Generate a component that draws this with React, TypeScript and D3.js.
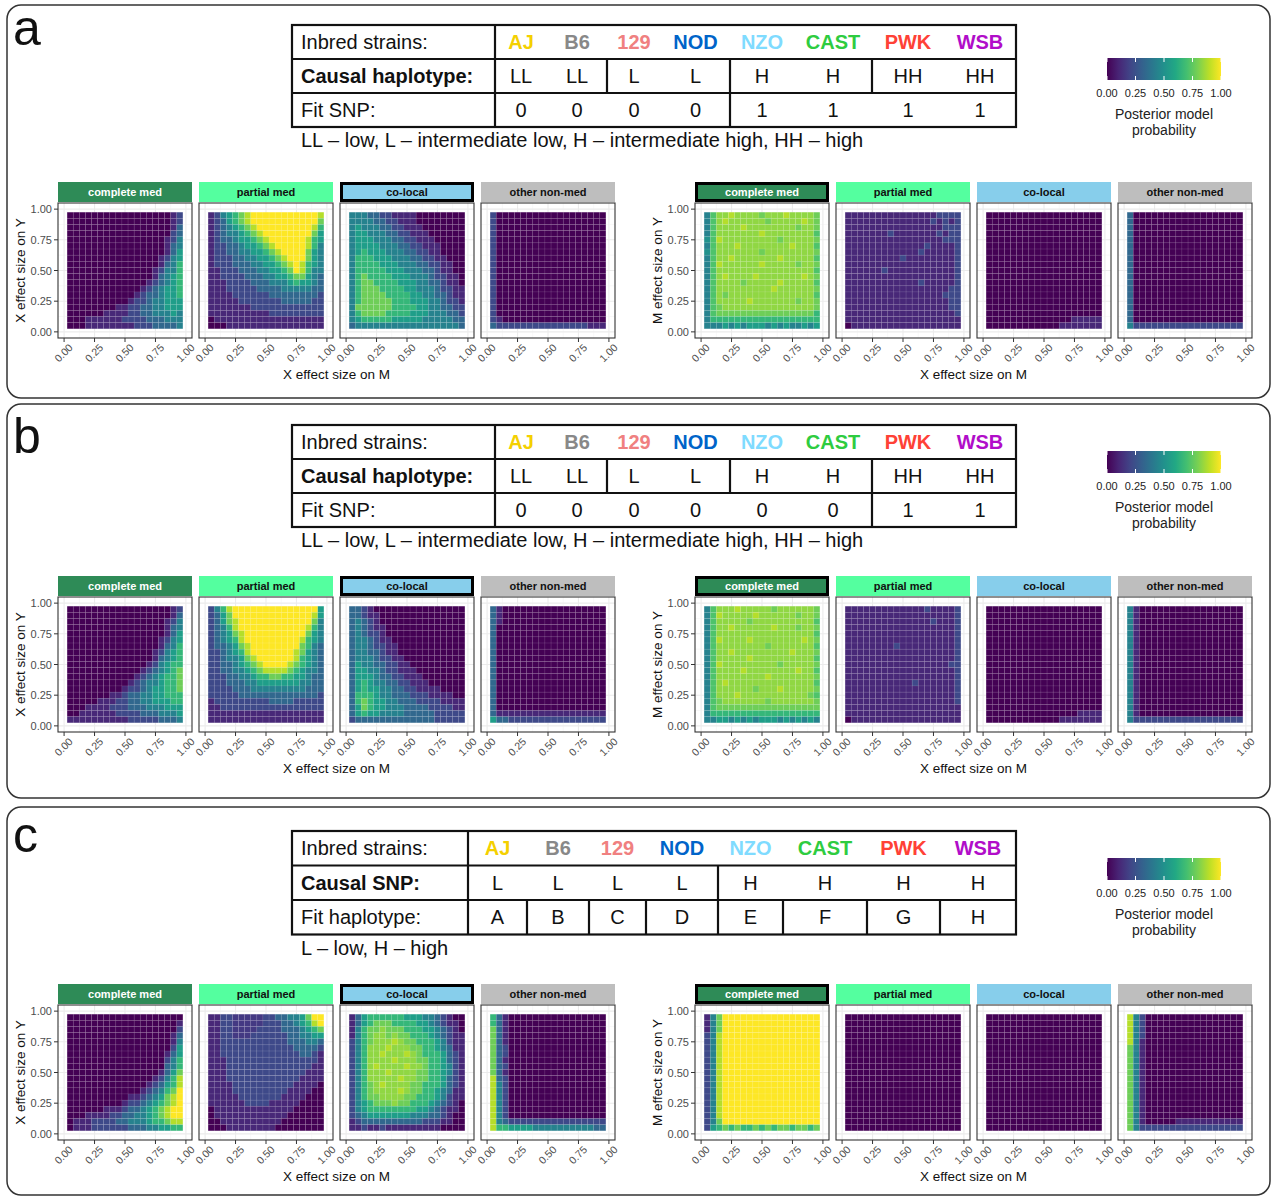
import React from 'react';
import * as d3 from 'd3';

const FONT = '"Liberation Sans", Arial, Helvetica, sans-serif';

// effect sizes sampled on both axes (tile centres)
const effectSizes = [0.05, 0.1, 0.15, 0.2, 0.25, 0.3, 0.35, 0.4, 0.45, 0.5, 0.55, 0.6, 0.65, 0.7, 0.75, 0.8, 0.85, 0.9, 0.95];
const axisTicks = [0, 0.25, 0.5, 0.75, 1];
const minorTicks = [0.125, 0.375, 0.625, 0.875];
const legendTicks = [0, 0.25, 0.5, 0.75, 1];

const models = ['complete med', 'partial med', 'co-local', 'other non-med'];
const modelFills = ['#2E8B57', '#54FF9F', '#87CEEB', '#BEBEBE'];
const modelText = ['#ffffff', '#111111', '#111111', '#111111'];

const strains = ['AJ', 'B6', '129', 'NOD', 'NZO', 'CAST', 'PWK', 'WSB'];
const strainColors = ['#F4D000', '#888888', '#F08080', '#0064C9', '#7FDBFF', '#2ECC40', '#FF4136', '#B10DC9'];

const causalHapA = ['LL', 'LL', 'L', 'L', 'H', 'H', 'HH', 'HH'];
const fitSnpA = ['0', '0', '0', '0', '1', '1', '1', '1'];
const causalHapB = ['LL', 'LL', 'L', 'L', 'H', 'H', 'HH', 'HH'];
const fitSnpB = ['0', '0', '0', '0', '0', '0', '1', '1'];
const causalSnpC = ['L', 'L', 'L', 'L', 'H', 'H', 'H', 'H'];
const fitHapC = ['A', 'B', 'C', 'D', 'E', 'F', 'G', 'H'];

// posterior model probability: one char per tile, position in LEVELS / 18
// (digits d = d/9, letters are the half steps between them)
// rows from effect 0.95 (top) down to 0.05, columns 0.05 -> 0.95
const LEVELS = '0A1B2C3D4E5F6G7H8I9';

const aLeftComplete = [
  '0000000000000000012', '0000000000000000012', '0000000000000000013', '0000000000000000023',
  '0000000000000000124', '0000000000000000134', '0000000000000000135', '0000000000000001245',
  '0000000000000001346', '0000000000000012446', '0000000000000013456', '0000000000000123456',
  '0000000000001234556', '0000000000012334556', '0000000000122344555', '0000000011223344555',
  '0000001111223344454', '0001111112222333444', '0001111111122233334',
];
const aLeftPartial = [
  '1245678999999999998', '1235678999999999997', '1234567899999999986', '1234456789999999975',
  '1233455678999999865', '1223345567899999864', '1223344556789999754', '1222334455678999754',
  '1222333445567898654', '1122233344556798644', '1122223334455677543', '1112222333444565543',
  '1112222233334444433', '1111222222333333332', '1111122222223333322', '1111111222222222222',
  '1111111111222222222', '0111111111111111111', '0001111111111111111',
];
const aLeftColocal = [
  '4443322111100000000', '4444332211100000000', '4544433221110000000', '4554443322111000000',
  '4555444332211100000', '4555544433221110000', '4565554443322110000', '4666555444332211000',
  '4666655544433221100', '4666665554443321100', '4676666555444322110', '4677666655544332110',
  '4677766665544432211', '4677776666554433211', '4677777666555443221', '4777777666655443322',
  '4677776666555444332', '4566666555554444433', '3444444444444444443',
];
const aLeftOther = [
  '2000000000000000000', '2000000000000000000', '2000000000000000000', '2000000000000000000',
  '2000000000000000000', '2000000000000000000', '2000000000000000000', '2000000000000000000',
  '2000000000000000000', '2000000000000000000', '2000000000000000000', '2000000000000000000',
  '2000000000000000000', '2000000000000000000', '2000000000000000000', '2000000000000000000',
  '2000000000000000000', '2100000000000000000', '3222222222222222111',
];
const aRightComplete = [
  '4GHH8HHHH7HHH8HHHH7', '4GH8HHHHHH7HHHHH8H7', '4GHHHH8HHHHHHHH7HH7', '4GHHHHHHH8HHHHHHHHG',
  'EG8HHHHHHHHH7HHHHH7', '4GHHH8HHHHHHHH8HHHG', 'EGHHHHHHH7HHHHHHHH7', '4GHH8HHHHHHH8HHHHHG',
  '4G8HHHHHH8HHHHH7HH7', '4GHHHHHHHHHHHHHHHHG', '4GH8HHHH8HHHHHHH8H7', '4GHHHH7HHHHH8HHHHHG',
  '4GHHHHHHHHH8HHHHHH7', '4GH7HHHHHHHHHHHHHHG', '4GHHHHH8HHHHHHH7HH7', '4G7HHHHHHHHHHHHHHH7',
  '4G77777777777777776', '4666666666666666666', '4445454555454544545',
];
const aRightPartial = [
  '1111111111111112222', '1111111111111121212', '1111111111111111222', '1111111211111112122',
  '1111111111111111222', '1111111111111211112', '1111111111112111112', '1111111112111111112',
  '1111111111111111112', '1111112111111111112', '1111111111111111112', '1111111111112111112',
  '1111111111111111122', '1111111111111111222', '1111111111111111122', '1111111111111111122',
  '1111111111111111112', '1111111111111111111', '0111111111111111111',
];
const aRightColocal = [
  '0000000000000000000', '0000000000000000000', '0000000000000000000', '0000000000000000000',
  '0000000000000000000', '0000000000000000000', '0000000000000000000', '0000000000000000000',
  '0000000000000000000', '0000000000000000000', '0000000000000000000', '0000000000000000000',
  '0000000000000000000', '0000000000000000000', '0000000000000000000', '0000000000000000000',
  '0000000000000000000', '0000000000000011111', '0000000000001111111',
];
const aRightOther = [
  '3000000000000000000', '3000000000000000000', '3000000000000000000', '3000000000000000000',
  '3000000000000000000', '3000000000000000000', '3000000000000000000', '3000000000000000000',
  '3000000000000000000', '3000000000000000000', '3000000000000000000', '3000000000000000000',
  '3000000000000000000', '3000000000000000000', '3000000000000000000', '3000000000000000000',
  '3000000000000000000', '3000000000000000000', '4222222222222222222',
];

const bLeftComplete = [
  '0000000000000000012', '0000000000000000013', '0000000000000000124', '0000000000000000134',
  '0000000000000000135', '0000000000000001245', '0000000000000001346', '0000000000000012456',
  '0000000000000013456', '0000000000000124566', '0000000000001234567', '0000000000012345667',
  '0000000000123445667', '0000000001223455667', '0000000112334455666', '0000011122334455566',
  '0001111222333444555', '0011111122223334445', '1111111111222223334',
];
const bLeftPartial = [
  '2468999999999999995', '2357999999999999985', '2357899999999999974', '2346899999999999864',
  '2345789999999999754', '2345689999999998654', '2334578999999997643', '2234568999999987543',
  '2234457899999986543', '2233456789999876543', '2233445678888765443', '2223344566776655433',
  '2223334455555554433', '2222333444444444333', '2222233333333333332', '1222222222333322222',
  '1122222222222222222', '1111111111111111111', '1111111111111111111',
];
const bLeftColocal = [
  '3321000000000000000', '3321100000000000000', '3432100000000000000', '3432110000000000000',
  '3432210000000000000', '3443211000000000000', '3443221100000000000', '3443321100000000000',
  '3444322110000000000', '3544332211000000000', '3554432211100000000', '3555433221110000000',
  '3565443322111000000', '3565544332211110000', '3666544333222111100', '3676554433322221111',
  '3576554443333222211', '3565544443333322222', '2333333333333322222',
];
const bLeftOther = [
  '3100000000000000000', '3100000000000000000', '3100000000000000000', '3000000000000000000',
  '3000000000000000000', '3000000000000000000', '3000000000000000000', '3000000000000000000',
  '3000000000000000000', '3000000000000000000', '3000000000000000000', '3000000000000000000',
  '3000000000000000000', '3000000000000000000', '3000000000000000000', '3000000000000000000',
  '3000000000000000000', '3111111111111111111', '5332222222222222222',
];
const bRightComplete = [
  '4GHHH8HHHHH7HHHHHH7', '4G8HHHHH8HHHHHH7HH7', '4GHHHHH7HHHHHHHHHHG', '4GHH8HHHHHH8HHH7HH7',
  '4GHHHHHHHHHHHHHHHHG', '4G8HHHH8HHHHHHHH8H7', '4GHHHHHHHH7HHHHHHHG', '4GHH8HHHHHHHHH8HHH7',
  '4GHHHHH8HHHHHHHHHHG', '4G8HHHHHHHHH7HHHHH7', '4GHHHH8HHHHHHHH8HHG', '4GHHHHHHHH8HHHHHHH7',
  '4GH8HHHHHHHHHHHHHHG', '4GHHHHHH7HHH8HHHHH7', '4GHHH8HHHHHHHHHHH7G', '4G7HHHHHHH7HHHHHHH7',
  '4G77777777777777777', '4666666666666666666', '4455454545554545454',
];
const bRightPartial = [
  '1111111111111211112', '1111111111111111112', '1111111111111121112', '1111111111111111112',
  '1111111111111111112', '1111111111111111112', '1111111121111111112', '1111111111111111112',
  '1111111111111111112', '1111111111111111122', '1111111111111111112', '1111111111111111112',
  '1111111111121111112', '1111111111111111112', '1111111111111111112', '1111111111111111112',
  '1111111111111111111', '1111111111111111111', '0111111111111111111',
];
const bRightColocal = [
  '0000000000000000000', '0000000000000000000', '0000000000000000000', '0000000000000000000',
  '0000000000000000000', '0000000000000000000', '0000000000000000000', '0000000000000000000',
  '0000000000000000000', '0000000000000000000', '0000000000000000000', '0000000000000000000',
  '0000000000000000000', '0000000000000000000', '0000000000000000000', '0000000000000000000',
  '0000000000000000000', '0000000000000001111', '0000000000001111111',
];
const bRightOther = [
  '4100000000000000000', '4100000000000000000', '4100000000000000000', '4100000000000000000',
  '4100000000000000000', '4100000000000000000', '4100000000000000000', '4100000000000000000',
  '4100000000000000000', '4100000000000000000', '4100000000000000000', '4100000000000000000',
  '4100000000000000000', '4100000000000000000', '4100000000000000000', '4100000000000000000',
  '4100000000000000000', '4100000000000000000', '4222222222222222222',
];

const cLeftComplete = [
  '0000000000000000000', '0000000000000000001', '0000000000000000002', '0000000000000000013',
  '0000000000000000014', '0000000000000000025', '0000000000000000135', '0000000000000000246',
  '0000000000000000346', '0000000000000001357', '0000000000000012468', '0000000000000123568',
  '0000000000001234679', '0000000000112345789', '0000000001223456789', '0000001112334567899',
  '0001111223344567899', '0111222233444566788', '0111222222333445566',
];
const cLeftPartial = [
  '1122BBBBB2233445799', '1122BBBBB2223345689', '1122BBBB22223334567', '1122BBB222222334455',
  '1122222222222333443', '1122222222222233332', '1122222222222223321', '1112222222222222221',
  '1112222222222222211', '1112222222222222111', '1112222222222221111', '1111222222222211110',
  '1111222222222111100', '1111122222221111000', '1111112222111110000', '0111111111111100000',
  '0111111111111000000', '0011111111110000000', '0001111111100000000',
];
const cLeftColocal = [
  '1356666665554432100', '1356777666655432110', '14677H7776665543210', '1467HH7H77666543211',
  '2467HHH8H7766654211', '246HHH8HHH776654311', '246HH8HHH8H76665321', '246HHHH8HHH77665321',
  '246H8HHHH8HH7665421', '246HHH8HHHH77665421', '246HHHHH8HH77665321', '2467H8HHHH776665321',
  '2467HHHH8H776654311', '24677HHHH7766654211', '2456777H77666543210', '2456666666655432110',
  '2345555555444332100', '1233333333332221100', '1121121111111110000',
];
const cLeftOther = [
  '6310000000000000000', '6310000000000000000', '7310000000000000000', '7310000000000000000',
  '7310000000000000000', '7320000000000000000', '7320000000000000000', '7310000000000000000',
  '7320000000000000000', '7310000000000000000', '8320000000000000000', '8420000000000000000',
  '8420000000000000000', '8420000000000000000', '8420000000000000000', '8420000000000000000',
  '8420000000000000000', '8432222222222222222', '8665555444444444433',
];
const cRightComplete = [
  '1479999999999999999', '1479999999999999999', '1479999999999999999', '2489999999999999999',
  '2489999999999999999', '2489999999999999999', '2489999999999999999', '2489999999999999999',
  '2489999999999999999', '2489999999999999999', '2489999999999999999', '2489999999999999999',
  '2489999999999999999', '2489999999999999999', '2489999999999999999', '2489999999999999999',
  '2489999999999999999', '2479999999999999999', '2567676676767767767',
];
const cRightPartial = [
  '0000000000000000000', '0000000000000000000', '0000000000000000000', '0000000000000000000',
  '0000000000000000000', '0000000000000000000', '0000000000000000000', '0000000000000000000',
  '0000000000000000000', '0000000000000000000', '0000000000000000000', '0000000000000000000',
  '0000000000000000000', '0000000000000000000', '0000000000000000000', '0000000000000000000',
  '0000000000000000000', '0000000000000000000', '0000000000000000000',
];
const cRightColocal = [
  '0000000000000000000', '0000000000000000000', '0000000000000000000', '0000000000000000000',
  '0000000000000000000', '0000000000000000000', '0000000000000000000', '0000000000000000000',
  '0000000000000000000', '0000000000000000000', '0000000000000000000', '0000000000000000000',
  '0000000000000000000', '0000000000000000000', '0000000000000000000', '0000000000000000000',
  '0000000000000000000', '0000000000000000000', '0000000000000000000',
];
const cRightOther = [
  '8420000000000000000', '8420000000000000000', '8420000000000000000', '8420000000000000000',
  '8410000000000000000', '7410000000000000000', '7410000000000000000', '7410000000000000000',
  '7410000000000000000', '7410000000000000000', '7410000000000000000', '7410000000000000000',
  '7410000000000000000', '7410000000000000000', '7410000000000000000', '7410000000000000000',
  '7410000000000000000', '7410000011111111111', '7422222222222222222',
];

// ---- layout
const PANEL_W = 134;
const PANEL_H = 135;
const PANEL_GAP = 7;
const GROUP_LEFT = [58, 695];
const TABLE_LEFT = 292;
const edgesAB = [495, 547, 607, 661, 730, 794, 872, 944, 1016];
const edgesC = [468, 527, 589, 646, 718, 783, 867, 940, 1016];
const LEGEND_X = [1107, 1221];

type Cell = { x: number; y: number; p: number };

function toCells(rows: string[]): Cell[] {
  const n = effectSizes.length;
  const out: Cell[] = [];
  rows.forEach((row, r) => {
    const y = effectSizes[n - 1 - r];
    effectSizes.forEach((x, c) => {
      const ch = row[Math.min(c, row.length - 1)];
      out.push({ x, y, p: Math.max(0, LEVELS.indexOf(ch)) / 18 });
    });
  });
  return out;
}

const fmt = d3.format('.2f');

function Facet({ x0, y0, grid, idx, highlight, showY }: any) {
  const xs = d3.scaleLinear().domain([-0.05, 1.05]).range([x0, x0 + PANEL_W]);
  const ys = d3.scaleLinear().domain([-0.05, 1.05]).range([y0 + PANEL_H, y0]);
  const cells = toCells(grid);
  const half = 0.025;
  const bottom = y0 + PANEL_H;
  return (
    <g>
      <rect x={x0} y={y0} width={PANEL_W} height={PANEL_H} fill="#fff" />
      {minorTicks.map((t) => (
        <g key={'m' + t} stroke="#F3F3F3" strokeWidth={0.6}>
          <line x1={xs(t)} x2={xs(t)} y1={y0} y2={bottom} />
          <line x1={x0} x2={x0 + PANEL_W} y1={ys(t)} y2={ys(t)} />
        </g>
      ))}
      {axisTicks.map((t) => (
        <g key={'M' + t} stroke="#EBEBEB" strokeWidth={1.1}>
          <line x1={xs(t)} x2={xs(t)} y1={y0} y2={bottom} />
          <line x1={x0} x2={x0 + PANEL_W} y1={ys(t)} y2={ys(t)} />
        </g>
      ))}
      {cells.map((c, i) => (
        <rect
          key={i}
          x={xs(c.x - half)}
          y={ys(c.y + half)}
          width={xs(c.x + half) - xs(c.x - half)}
          height={ys(c.y - half) - ys(c.y + half)}
          fill={d3.interpolateViridis(c.p)}
          stroke="#ffffff"
          strokeOpacity={0.12}
          strokeWidth={0.6}
        />
      ))}
      <rect x={x0} y={y0} width={PANEL_W} height={PANEL_H} fill="none" stroke="#333" strokeWidth={1.1} />
      {highlight ? (
        <rect x={x0 + 1.5} y={y0 - 19.5} width={PANEL_W - 3} height={17} fill={modelFills[idx]} stroke="#000" strokeWidth={3} />
      ) : (
        <rect x={x0} y={y0 - 21} width={PANEL_W} height={20} fill={modelFills[idx]} />
      )}
      <text x={x0 + PANEL_W / 2} y={y0 - 7} textAnchor="middle" fontSize={11} fontWeight="bold" fill={modelText[idx]}>
        {models[idx]}
      </text>
      {axisTicks.map((t) => (
        <g key={'x' + t}>
          <line x1={xs(t)} x2={xs(t)} y1={bottom} y2={bottom + 4} stroke="#333" strokeWidth={1} />
          <text
            transform={`translate(${xs(t) + 4},${bottom + 5}) rotate(-45)`}
            textAnchor="end"
            dy="0.72em"
            fontSize={10.5}
            fill="#4D4D4D"
          >
            {fmt(t)}
          </text>
        </g>
      ))}
      {showY &&
        axisTicks.map((t) => (
          <g key={'y' + t}>
            <line x1={x0 - 4} x2={x0} y1={ys(t)} y2={ys(t)} stroke="#333" strokeWidth={1} />
            <text x={x0 - 6} y={ys(t) + 4} textAnchor="end" fontSize={11} fill="#4D4D4D">
              {fmt(t)}
            </text>
          </g>
        ))}
    </g>
  );
}

function FacetGroup({ left, top, grids, yTitle, highlight }: any) {
  const totalW = 4 * PANEL_W + 3 * PANEL_GAP;
  return (
    <g>
      {grids.map((g: string[], i: number) => (
        <Facet
          key={i}
          x0={left + i * (PANEL_W + PANEL_GAP)}
          y0={top}
          grid={g}
          idx={i}
          highlight={i === highlight}
          showY={i === 0}
        />
      ))}
      <text x={left + totalW / 2} y={top + PANEL_H + 41} textAnchor="middle" fontSize={13.5} fill="#111">
        X effect size on M
      </text>
      <text
        transform={`translate(${left - 33},${top + PANEL_H / 2}) rotate(-90)`}
        textAnchor="middle"
        fontSize={13.5}
        fill="#111"
      >
        {yTitle}
      </text>
    </g>
  );
}

function StrainTable({ top, rowH, edges, row2Label, row2, row3Label, row3, note }: any) {
  const right = edges[edges.length - 1];
  const ys = [top, top + rowH, top + 2 * rowH, top + 3 * rowH];
  const mid = (i: number) => (edges[i] + edges[i + 1]) / 2;
  const seps = (vals: string[]) =>
    vals
      .slice(1)
      .map((v, i) => (v !== vals[i] ? edges[i + 1] : null))
      .filter((v) => v !== null) as number[];
  const base = (r: number) => ys[r] + rowH / 2 + 7;
  return (
    <g fontSize={20} fill="#111">
      <rect x={TABLE_LEFT} y={top} width={right - TABLE_LEFT} height={3 * rowH} fill="#fff" stroke="#111" strokeWidth={2.2} />
      <line x1={TABLE_LEFT} x2={right} y1={ys[1]} y2={ys[1]} stroke="#111" strokeWidth={2.2} />
      <line x1={TABLE_LEFT} x2={right} y1={ys[2]} y2={ys[2]} stroke="#111" strokeWidth={2.2} />
      <line x1={edges[0]} x2={edges[0]} y1={top} y2={ys[3]} stroke="#111" strokeWidth={2.2} />
      {seps(row2).map((x) => (
        <line key={'s2' + x} x1={x} x2={x} y1={ys[1]} y2={ys[2]} stroke="#111" strokeWidth={2.2} />
      ))}
      {seps(row3).map((x) => (
        <line key={'s3' + x} x1={x} x2={x} y1={ys[2]} y2={ys[3]} stroke="#111" strokeWidth={2.2} />
      ))}
      <text x={TABLE_LEFT + 9} y={base(0)}>Inbred strains:</text>
      <text x={TABLE_LEFT + 9} y={base(1)} fontWeight="bold">
        {row2Label}
      </text>
      <text x={TABLE_LEFT + 9} y={base(2)}>{row3Label}</text>
      {strains.map((s, i) => (
        <text key={s} x={mid(i)} y={base(0)} textAnchor="middle" fontWeight="bold" fill={strainColors[i]}>
          {s}
        </text>
      ))}
      {row2.map((s: string, i: number) => (
        <text key={'r2' + i} x={mid(i)} y={base(1)} textAnchor="middle">
          {s}
        </text>
      ))}
      {row3.map((s: string, i: number) => (
        <text key={'r3' + i} x={mid(i)} y={base(2)} textAnchor="middle">
          {s}
        </text>
      ))}
      <text x={TABLE_LEFT + 9} y={ys[3] + 20}>
        {note}
      </text>
    </g>
  );
}

function Legend({ top }: any) {
  const sx = d3.scaleLinear().domain([0, 1]).range(LEGEND_X);
  const h = 22;
  return (
    <g>
      <rect x={LEGEND_X[0]} y={top} width={LEGEND_X[1] - LEGEND_X[0]} height={h} fill="url(#viridisGrad)" />
      {legendTicks.map((t) => (
        <g key={t} stroke="#fff" strokeWidth={1}>
          <line x1={sx(t)} x2={sx(t)} y1={top} y2={top + 4} />
          <line x1={sx(t)} x2={sx(t)} y1={top + h - 4} y2={top + h} />
        </g>
      ))}
      {legendTicks.map((t) => (
        <text key={'l' + t} x={sx(t)} y={top + 39} textAnchor="middle" fontSize={11} fill="#222">
          {fmt(t)}
        </text>
      ))}
      <text x={(LEGEND_X[0] + LEGEND_X[1]) / 2} y={top + 61} textAnchor="middle" fontSize={14} fill="#222">
        Posterior model
      </text>
      <text x={(LEGEND_X[0] + LEGEND_X[1]) / 2} y={top + 77} textAnchor="middle" fontSize={14} fill="#222">
        probability
      </text>
    </g>
  );
}

function Panel({ letter, letterY, frame, table, legendTop, stripTop, left, right }: any) {
  const top = stripTop + 21;
  return (
    <g>
      <rect x={7} y={frame[0]} width={1263} height={frame[1] - frame[0]} rx={14} fill="#fff" stroke="#333" strokeWidth={1.5} />
      <text x={13} y={letterY} fontSize={50} fill="#111">
        {letter}
      </text>
      <StrainTable {...table} />
      <Legend top={legendTop} />
      <FacetGroup left={GROUP_LEFT[0]} top={top} grids={left} yTitle="X effect size on Y" highlight={2} />
      <FacetGroup left={GROUP_LEFT[1]} top={top} grids={right} yTitle="M effect size on Y" highlight={0} />
    </g>
  );
}

export default function App() {
  const stops = d3.range(0, 1.0001, 0.1);
  return (
    <svg
      width={1274}
      height={1199}
      viewBox="0 0 1274 1199"
      style={{ position: 'absolute', left: 0, top: 0, fontFamily: FONT, background: '#fff' }}
    >
      <defs>
        <linearGradient id="viridisGrad" x1="0" x2="1" y1="0" y2="0">
          {stops.map((s) => (
            <stop key={s} offset={s} stopColor={d3.interpolateViridis(s)} />
          ))}
        </linearGradient>
      </defs>
      <rect width={1274} height={1199} fill="#fff" />
      <Panel
        letter="a"
        letterY={45}
        frame={[5, 398]}
        legendTop={58}
        stripTop={182}
        table={{
          top: 25,
          rowH: 34,
          edges: edgesAB,
          row2Label: 'Causal haplotype:',
          row2: causalHapA,
          row3Label: 'Fit SNP:',
          row3: fitSnpA,
          note: 'LL – low, L – intermediate low, H – intermediate high, HH – high',
        }}
        left={[aLeftComplete, aLeftPartial, aLeftColocal, aLeftOther]}
        right={[aRightComplete, aRightPartial, aRightColocal, aRightOther]}
      />
      <Panel
        letter="b"
        letterY={453}
        frame={[404, 798]}
        legendTop={451}
        stripTop={576}
        table={{
          top: 425,
          rowH: 34,
          edges: edgesAB,
          row2Label: 'Causal haplotype:',
          row2: causalHapB,
          row3Label: 'Fit SNP:',
          row3: fitSnpB,
          note: 'LL – low, L – intermediate low, H – intermediate high, HH – high',
        }}
        left={[bLeftComplete, bLeftPartial, bLeftColocal, bLeftOther]}
        right={[bRightComplete, bRightPartial, bRightColocal, bRightOther]}
      />
      <Panel
        letter="c"
        letterY={852}
        frame={[807, 1195]}
        legendTop={858}
        stripTop={984}
        table={{
          top: 831,
          rowH: 34.5,
          edges: edgesC,
          row2Label: 'Causal SNP:',
          row2: causalSnpC,
          row3Label: 'Fit haplotype:',
          row3: fitHapC,
          note: 'L – low, H – high',
        }}
        left={[cLeftComplete, cLeftPartial, cLeftColocal, cLeftOther]}
        right={[cRightComplete, cRightPartial, cRightColocal, cRightOther]}
      />
    </svg>
  );
}
